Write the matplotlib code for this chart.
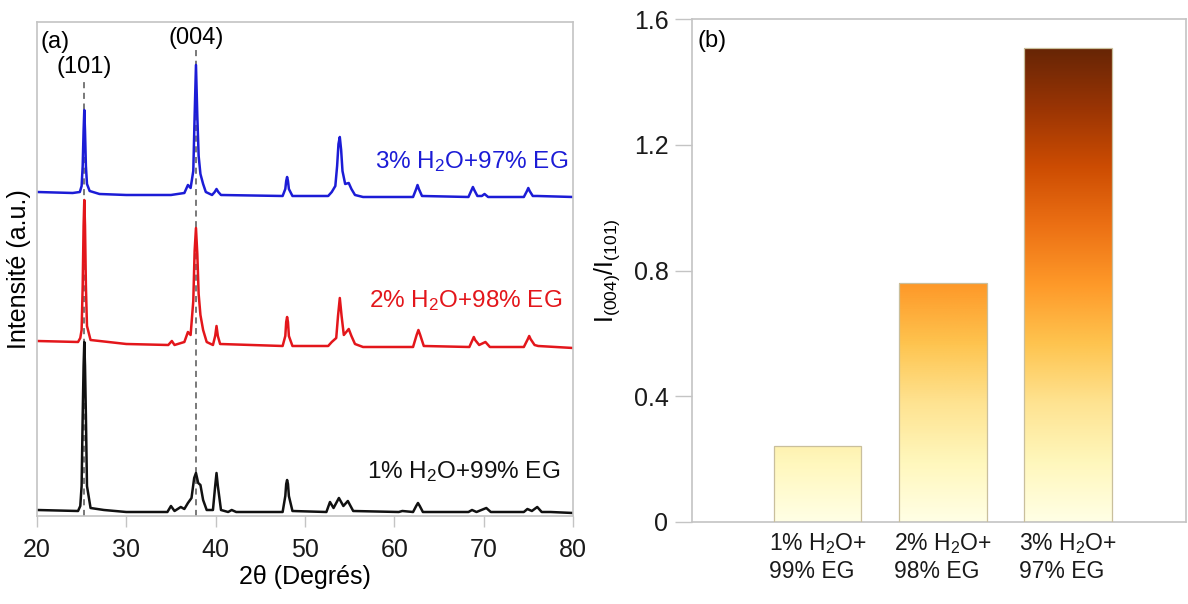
"""DRX des echantillons et rapport I(004)/I(101)."""

import numpy as np
import matplotlib
matplotlib.use('Agg')
import matplotlib.pyplot as plt
from matplotlib.colors import Normalize

plt.rcParams['font.family'] = ['Liberation Sans', 'DejaVu Sans']
plt.rcParams['mathtext.fontset'] = 'custom'
plt.rcParams['mathtext.rm'] = 'Liberation Sans'
plt.rcParams['mathtext.it'] = 'Liberation Sans:italic'

# --- (a) diffractogrammes (intensite en u.a., deja decalees) ---
tt_97 = [20.0, 24.0, 24.8, 25.0, 25.12, 25.22, 25.3, 25.38, 25.48, 25.6, 25.9, 27.0, 30.0, 35.0,
         36.5, 36.9, 37.2, 37.5, 37.65, 37.8, 37.95, 38.1, 38.3, 38.6, 38.9, 39.6, 39.9, 40.1, 40.3,
         40.6, 47.5, 47.8, 47.9, 48.0, 48.1, 48.2, 48.6, 52.6, 53.0, 53.4, 53.6, 53.75, 53.9, 54.05,
         54.2, 54.5, 54.9, 55.2, 55.6, 56.5, 62.1, 62.45, 62.6, 62.75, 63.1, 68.3, 68.65, 68.8,
         68.95, 69.3, 69.8, 70.1, 70.5, 74.5, 74.85, 75.0, 75.15, 75.5, 76.0, 80.0]
ii_97 = [324, 323, 324, 330, 350, 385, 406, 385, 350, 332, 325, 322, 321, 321,
         323, 331, 328, 345, 400, 451, 400, 360, 342, 332, 324, 321, 324, 327, 324,
         321, 320, 327, 335, 339, 335, 327, 320, 320, 324, 330, 350, 372, 379, 366,
         345, 332, 333, 327, 321, 319, 319, 327, 331, 327, 320, 319, 326, 329,
         326, 320, 320, 322, 319, 319, 325, 328, 325, 320, 320, 319]

tt_98 = [20.0, 24.6, 24.85, 25.0, 25.12, 25.22, 25.3, 25.38, 25.48, 25.6, 26.0, 30.0, 34.7, 35.1,
         35.4, 36.5, 36.9, 37.2, 37.5, 37.65, 37.8, 37.95, 38.1, 38.3, 38.6, 39.0, 39.7, 39.95,
         40.1, 40.25, 40.5, 47.5, 47.8, 47.9, 48.0, 48.1, 48.2, 48.6, 52.6, 53.0, 53.5, 53.7, 53.9,
         54.1, 54.35, 54.9, 55.2, 55.6, 56.5, 62.1, 62.5, 62.7, 62.9, 63.3, 68.4, 68.75, 68.9,
         69.05, 69.5, 70.2, 70.7, 74.5, 74.95, 75.1, 75.25, 75.7, 76.1, 80.0]
ii_98 = [175, 174, 178, 186, 230, 290, 316, 290, 230, 190, 176, 172, 171, 175,
         171, 174, 184, 181, 215, 265, 288, 262, 222, 201, 186, 174, 171, 180,
         190, 180, 172, 170, 180, 194, 199, 194, 180, 170, 170, 174, 178, 200, 218,
         200, 181, 187, 180, 172, 169, 169, 181, 186, 181, 170, 169, 176, 179,
         176, 171, 174, 169, 169, 177, 180, 177, 171, 170, 168]

tt_99 = [20.0, 24.6, 24.85, 25.0, 25.12, 25.22, 25.3, 25.38, 25.48, 25.6, 26.0, 27.5, 30.0, 34.6,
         35.0, 35.4, 36.1, 36.5, 36.9, 37.3, 37.6, 37.8, 38.05, 38.3, 38.6, 39.0, 39.7, 39.95,
         40.1, 40.25, 40.6, 41.4, 41.8, 42.3, 47.5, 47.8, 47.9, 48.0, 48.1, 48.2, 48.6, 52.4, 52.8,
         53.2, 53.8, 54.3, 54.8, 55.4, 60.5, 60.9, 62.1, 62.45, 62.65, 62.85, 63.2, 68.3, 68.7,
         69.2, 70.3, 70.8, 74.5, 74.9, 75.4, 76.0, 76.5, 77.5, 80.0]
ii_99 = [6, 5, 10, 30, 100, 150, 174, 150, 100, 30, 8, 6, 4, 4,
         10, 5, 9, 7, 13, 18, 38, 43, 33, 31, 16, 6, 6, 30,
         43, 30, 6, 4, 6, 4, 4, 20, 32, 36, 32, 20, 5, 4, 14,
         8, 18, 10, 15, 5, 4, 5, 4, 10, 13, 10, 4, 4, 6,
         4, 8, 4, 4, 7, 5, 9, 4, 4, 3]

peak_pos = [25.3, 37.8]
peak_names = ['(101)', '(004)']
peak_top = [434, 468]

# --- (b) rapport des intensites ---
samples = ['1% H$_2$O+\n99% EG', '2% H$_2$O+\n98% EG', '3% H$_2$O+\n97% EG']
ratio = [0.24, 0.76, 1.51]

fig = plt.figure(figsize=(11.88, 6.04), dpi=100)
grey = '#c4c4c4'

# ---------------- (a) ----------------
ax1 = fig.add_axes([0.0311, 0.1457, 0.4512, 0.8179])
for xp, top in zip(peak_pos, peak_top):
    ax1.plot([xp, xp], [0, top], color='#555555', lw=1.1, ls=(0, (4, 3)), zorder=1)
ax1.plot(tt_97, ii_97, color='#1c1cd6', lw=1.8, zorder=2)
ax1.plot(tt_98, ii_98, color='#e3161b', lw=1.8, zorder=2)
ax1.plot(tt_99, ii_99, color='#111111', lw=1.8, zorder=2)

ax1.text(25.3, 449, peak_names[0], ha='center', va='center', fontsize=17)
ax1.text(37.8, 478, peak_names[1], ha='center', va='center', fontsize=17)
ax1.text(20.4, 474, '(a)', ha='left', va='center', fontsize=17)
ax1.text(79.5, 354, '3% H$_2$O+97% EG', color='#1c1cd6', ha='right', va='center', fontsize=17.5)
ax1.text(78.8, 215, '2% H$_2$O+98% EG', color='#e3161b', ha='right', va='center', fontsize=17.5)
ax1.text(78.6, 44, '1% H$_2$O+99% EG', color='#111111', ha='right', va='center', fontsize=17.5)

ax1.set_xlim(20, 80)
ax1.set_ylim(0, 494)
ax1.set_xticks([20, 30, 40, 50, 60, 70, 80])
ax1.set_yticks([])
ax1.tick_params(axis='x', direction='out', length=8, width=1, color=grey,
                labelsize=18, pad=8, labelcolor='#1a1a1a')
ax1.set_xlabel('2θ (Degrés)', fontsize=18, labelpad=2)
ax1.set_ylabel('Intensité (a.u.)', fontsize=18, labelpad=4)
for sp in ax1.spines.values():
    sp.set_color(grey)
    sp.set_linewidth(1.2)

# ---------------- (b) ----------------
ax2 = fig.add_axes([0.5825, 0.1363, 0.4158, 0.8317])
pos = np.arange(1, len(ratio) + 1)
bars = ax2.bar(pos, ratio, width=0.7, facecolor='none', edgecolor='#c9bf9c', lw=0.9, zorder=3)
norm = Normalize(0, 1.51)
for b in bars:
    x0, w, h = b.get_x(), b.get_width(), b.get_height()
    grad = np.linspace(0, h, 256).reshape(-1, 1)
    im = ax2.imshow(grad, extent=[x0, x0 + w, 0, h], origin='lower', aspect='auto',
                    cmap='YlOrBr', norm=norm, zorder=2)
    im.set_clip_path(b)

ax2.text(0.04, 1.53, '(b)', ha='left', va='center', fontsize=17)
ax2.set_xlim(0, 3.94)
ax2.set_ylim(0, 1.6)
ax2.set_yticks([0, 0.4, 0.8, 1.2, 1.6])
ax2.set_yticklabels(['0', '0.4', '0.8', '1.2', '1.6'])
ax2.set_xticks(pos)
ax2.set_xticklabels(samples, multialignment='left')
ax2.tick_params(axis='y', direction='out', length=12, width=1, color=grey,
                labelsize=18, pad=5, labelcolor='#1a1a1a')
ax2.tick_params(axis='x', length=0, labelsize=16.5, pad=7, labelcolor='#1a1a1a')
ax2.set_ylabel('I$_{\\mathregular{(004)}}$/I$_{\\mathregular{(101)}}$', fontsize=18, labelpad=8)
for sp in ax2.spines.values():
    sp.set_color(grey)
    sp.set_linewidth(1.2)

fig.savefig('out.png', dpi=100)
